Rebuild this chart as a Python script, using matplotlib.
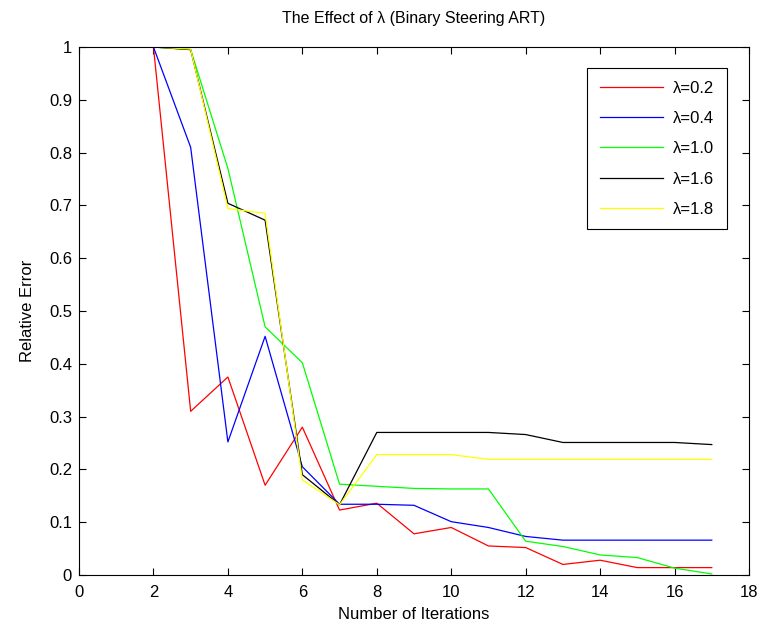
import numpy as np
import matplotlib
matplotlib.use('Agg')
import matplotlib.pyplot as plt

plt.rcParams['font.family'] = ['Liberation Sans', 'DejaVu Sans']

# Iterações e erros relativos
iteracoes = [2, 3, 4, 5, 6, 7, 8, 9, 10, 11, 12, 13, 14, 15, 16, 17]

erro_02 = [1.0, 0.31, 0.375, 0.17, 0.28, 0.123, 0.136, 0.078, 0.09, 0.055,
           0.052, 0.02, 0.028, 0.014, 0.014, 0.014]
erro_04 = [1.0, 0.81, 0.252, 0.452, 0.205, 0.134, 0.134, 0.132, 0.101, 0.09,
           0.073, 0.066, 0.066, 0.066, 0.066, 0.066]
erro_10 = [1.0, 0.995, 0.77, 0.47, 0.402, 0.172, 0.168, 0.164, 0.163, 0.163,
           0.064, 0.054, 0.038, 0.033, 0.013, 0.002]
erro_16 = [1.0, 0.995, 0.704, 0.672, 0.19, 0.133, 0.27, 0.27, 0.27, 0.27,
           0.266, 0.251, 0.251, 0.251, 0.251, 0.247]
erro_18 = [1.0, 0.996, 0.694, 0.685, 0.18, 0.133, 0.228, 0.228, 0.228, 0.219,
           0.219, 0.219, 0.219, 0.219, 0.219, 0.219]

series = [
    (erro_02, '#ff0000', '\u03bb=0.2'),
    (erro_04, '#0000ff', '\u03bb=0.4'),
    (erro_10, '#00ff00', '\u03bb=1.0'),
    (erro_16, '#000000', '\u03bb=1.6'),
    (erro_18, '#ffff00', '\u03bb=1.8'),
]

fig = plt.figure(figsize=(7.62, 6.29), dpi=100)
ax = fig.add_axes([79 / 762, 54 / 629, 670 / 762, 528 / 629])

for valores, cor, rotulo in series:
    ax.plot(iteracoes, valores, color=cor, linewidth=0.9, label=rotulo)

ax.set_xlim(0, 18)
ax.set_ylim(0, 1)
ax.set_xticks(np.arange(0, 19, 2))
ax.set_yticks(np.arange(0, 1.01, 0.1))
ax.set_yticklabels(['0', '0.1', '0.2', '0.3', '0.4', '0.5', '0.6', '0.7', '0.8', '0.9', '1'])
ax.tick_params(direction='in', top=True, right=True, labelsize=12, length=5, width=0.8)
ax.tick_params(axis='x', pad=7)
ax.tick_params(axis='y', pad=5)
for s in ax.spines.values():
    s.set_linewidth(0.8)

ax.set_title('The Effect of \u03bb (Binary Steering ART)', fontsize=11.5, pad=17)
ax.set_xlabel('Number of Iterations', fontsize=12, labelpad=5)
ax.set_ylabel('Relative Error', fontsize=12, labelpad=10)

leg = ax.legend(loc='upper right', fontsize=12, fancybox=False, framealpha=1,
                edgecolor='black', borderpad=0.75, labelspacing=0.92,
                handlelength=3.8, handletextpad=0.6, borderaxespad=0,
                bbox_to_anchor=(0.967, 0.96))
leg.get_frame().set_linewidth(0.8)

fig.savefig('out.png', dpi=100)
